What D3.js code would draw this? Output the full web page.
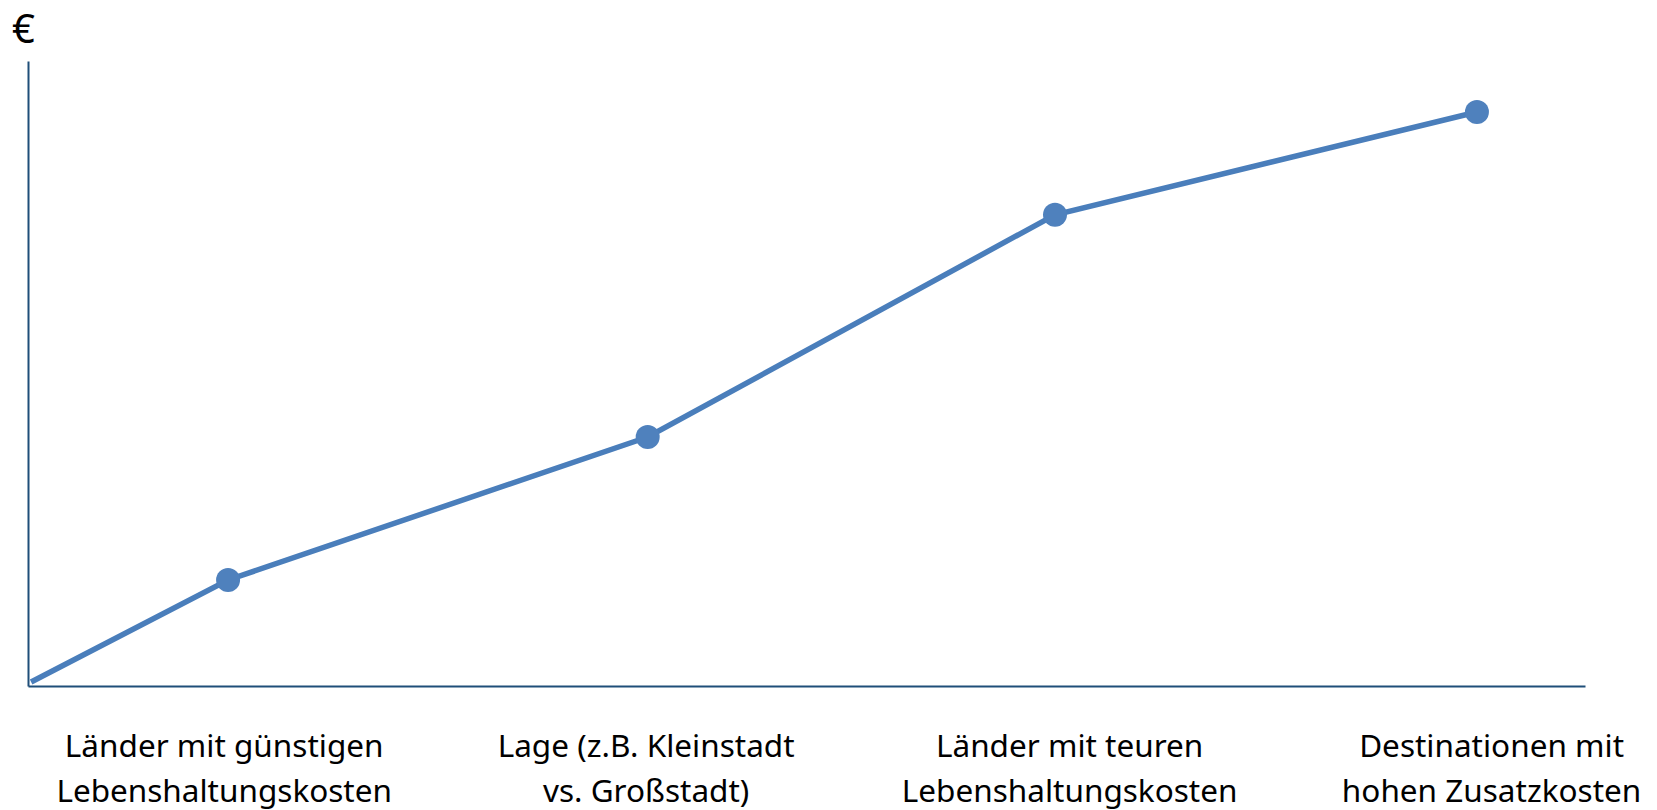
<!DOCTYPE html>
<html>
<head>
<meta charset="utf-8">
<script src="https://d3js.org/d3.v7.min.js"></script>
<style>
  body { margin: 0; background: #fff; }
  text { font-family: 'Noto Sans', 'Open Sans', sans-serif; fill: #000; }
</style>
</head>
<body>
<script>
// values (0-100 on both axes, no units shown)
const xValues = [0.2, 12.85, 39.8, 65.96, 93.06]
const yValues = [0.64, 16.96, 39.84, 75.4, 91.84]
const categories = [
    ['Länder mit günstigen', 'Lebenshaltungskosten'],
    ['Lage (z.B. Kleinstadt', 'vs. Großstadt)'],
    ['Länder mit teuren', 'Lebenshaltungskosten'],
    ['Destinationen mit', 'hohen Zusatzkosten']
]
const labelPos = [12.6, 39.7, 66.9, 94.0]
const yLabel = '€'

const points = xValues.map((x, i) => ({ x: x, y: yValues[i] }))

const margin = { top: 61, right: 72, bottom: 124, left: 28 }
const width = 1657 - margin.left - margin.right
const height = 810 - margin.top - margin.bottom

const svg = d3.select('body').append('svg')
    .attr('width', 1657)
    .attr('height', 810)
    .append('g')
        .attr('transform', `translate(${margin.left}, ${margin.top})`)

const xScale = d3.scaleLinear().domain([0, 100]).range([0, width])
const yScale = d3.scaleLinear().domain([0, 100]).range([height, 0])

// axes, no ticks
svg.append('g')
    .attr('transform', `translate(0, ${height})`)
    .call(d3.axisBottom(xScale).ticks(0).tickSizeOuter(0))
    .select('.domain')
    .attr('stroke', '#1f4e79')
    .attr('stroke-width', 2)

svg.append('g')
    .call(d3.axisLeft(yScale).ticks(0).tickSizeOuter(0))
    .select('.domain')
    .attr('stroke', '#1f4e79')
    .attr('stroke-width', 2)

svg.append('text')
    .attr('x', -16)
    .attr('y', -18)
    .style('font-size', '40px')
    .text(yLabel)

const line = d3.line()
    .x(d => xScale(d.x))
    .y(d => yScale(d.y))

svg.append('path')
    .datum(points)
    .attr('d', line)
    .attr('fill', 'none')
    .attr('stroke', '#4a7ebb')
    .attr('stroke-width', 5.5)

svg.selectAll('.dot')
    .data(points.slice(1))
    .enter().append('circle')
    .attr('class', 'dot')
    .attr('cx', d => xScale(d.x))
    .attr('cy', d => yScale(d.y))
    .attr('r', 12)
    .attr('fill', '#4f81bd')

const labels = svg.selectAll('.cat')
    .data(categories)
    .enter().append('text')
    .attr('class', 'cat')
    .attr('x', (d, i) => xScale(labelPos[i]))
    .attr('y', height + 71)
    .style('text-anchor', 'middle')
    .style('font-size', '31.5px')

labels.selectAll('tspan')
    .data(d => d)
    .enter().append('tspan')
    .attr('x', function () { return this.parentNode.getAttribute('x') })
    .attr('dy', (d, i) => i === 0 ? 0 : 45)
    .text(d => d)
</script>
</body>
</html>
